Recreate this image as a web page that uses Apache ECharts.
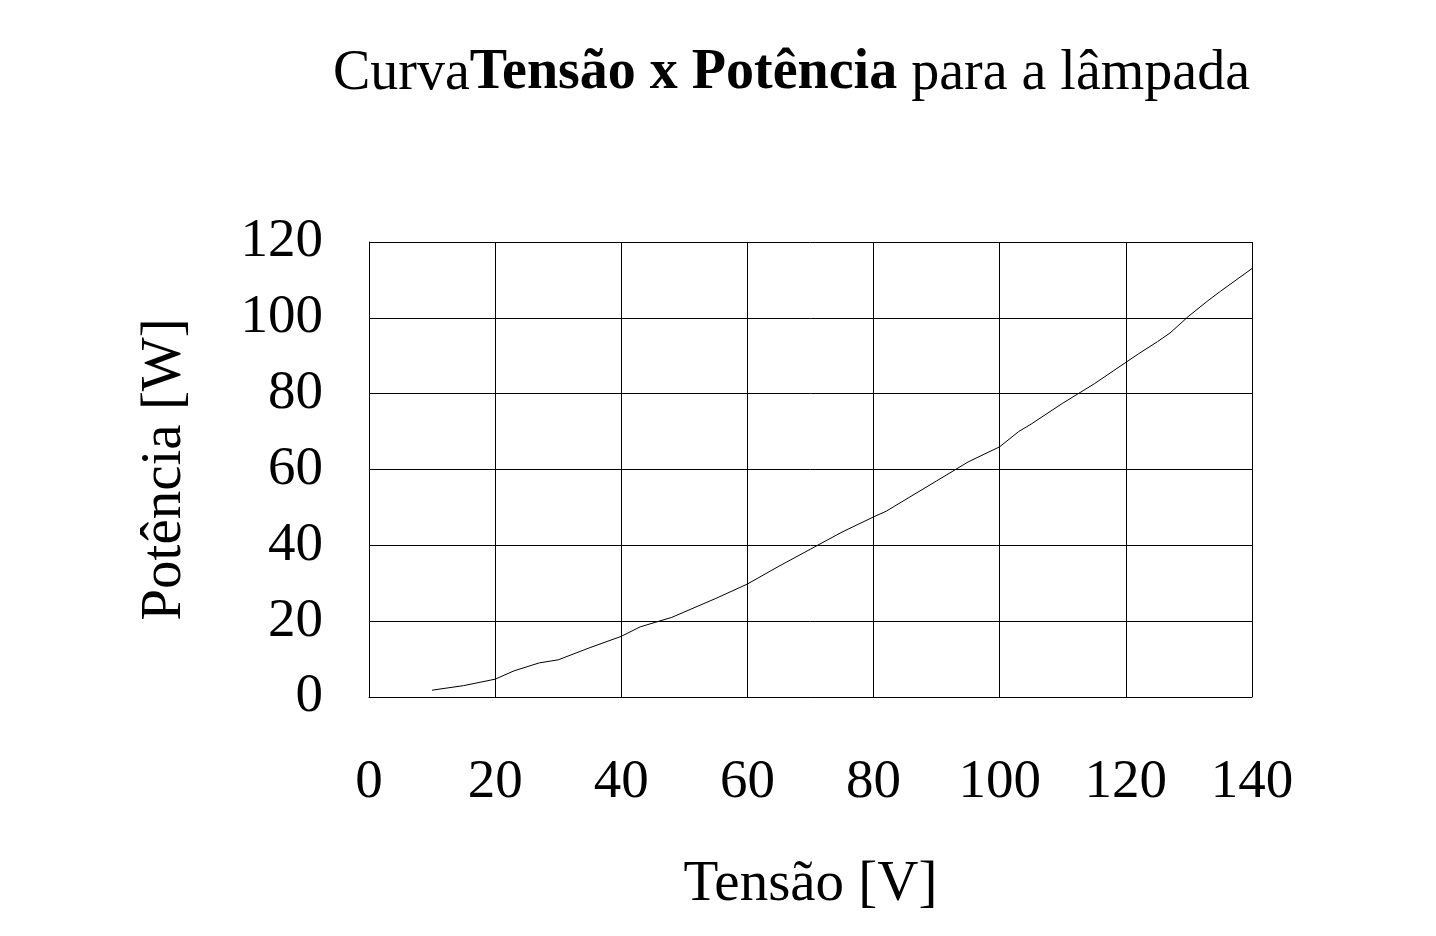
<!DOCTYPE html>
<html><head><meta charset="utf-8">
<script src="https://cdn.jsdelivr.net/npm/echarts@6/dist/echarts.min.js"></script>
<style>html,body{margin:0;background:#fff}#c{width:1436px;height:936px}</style>
</head><body><div id="c"></div>
<script>
const tensao = [10,15,20,23,27,30,35,40,43,48,55,60,65,70,75,80,82,85,90,95,100,103,105,110,115,118,122,125,127,130,133,135,140];
const potencia = [1.8,3,4.7,6.9,9,9.8,13,16,18.5,21,26,29.8,34.5,39,43.5,47.5,49,52,57,62,66,70,72,77.5,82.6,86,90.5,93.7,96,100.5,104.5,107,113];
const xTicks = [0,20,40,60,80,100,120,140];
const yTicks = [0,20,40,60,80,100,120];
const F = '"Liberation Serif", "Times New Roman", serif';
const chart = echarts.init(document.getElementById('c'));
chart.setOption({
  animation:false,
  graphic:[{type:'text',left:333,top:46,style:{
    rich:{n:{fontFamily:F,fontSize:56,fill:'#000'},b:{fontFamily:F,fontSize:56,fontWeight:'bold',fill:'#000'}},
    text:'{n|Curva}{b|Tensão x Potência}{n| para a lâmpada}'}},
    {type:'rect',left:1262,top:40,shape:{width:170,height:80},style:{fill:'#fff'},z:100}],
  grid:{left:369,right:184,top:242,bottom:239},
  xAxis:{type:'value',min:0,max:140,interval:20,
    name:'Tensão [V]',nameLocation:'middle',nameGap:160,
    nameTextStyle:{fontFamily:F,fontSize:57,color:'#000'},
    axisLine:{show:true,lineStyle:{color:'#000'}},axisTick:{show:false},
    axisLabel:{margin:58,fontFamily:F,fontSize:55,color:'#000'},
    splitLine:{show:true,lineStyle:{color:'#000',width:1}}},
  yAxis:{type:'value',min:0,max:120,interval:20,
    name:'Potência [W]',nameLocation:'middle',nameGap:175,
    nameTextStyle:{fontFamily:F,fontSize:57,color:'#000'},
    axisLine:{show:true,lineStyle:{color:'#000'}},axisTick:{show:false},
    axisLabel:{margin:46,fontFamily:F,fontSize:55,color:'#000'},
    splitLine:{show:true,lineStyle:{color:'#000',width:1}}},
  series:[{type:'line',data:tensao.map((v,i)=>[v,potencia[i]]),showSymbol:false,
    lineStyle:{color:'#000',width:1}}]
});
</script></body></html>
